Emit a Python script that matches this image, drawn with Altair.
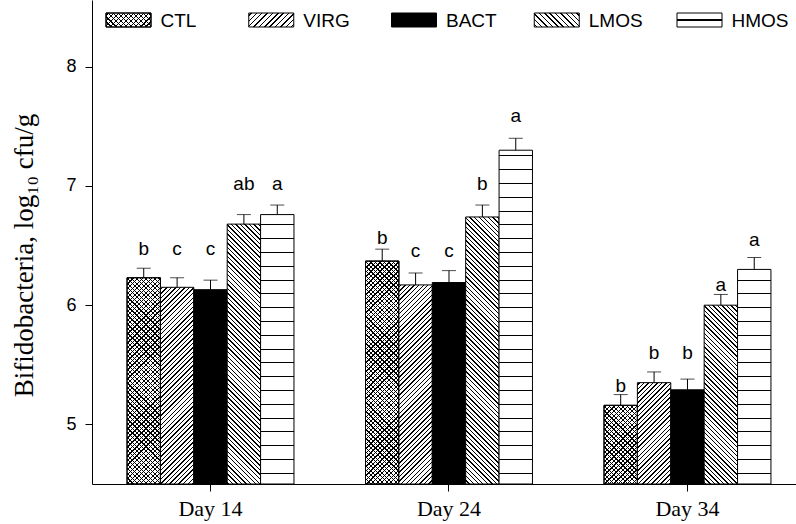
import altair as alt
import pandas as pd

# ---------------- data ----------------
days = ["Day 14", "Day 24", "Day 34"]
groups = ["CTL", "VIRG", "BACT", "LMOS", "HMOS"]
mean_d14 = [6.23, 6.15, 6.13, 6.68, 6.76]
mean_d24 = [6.37, 6.17, 6.19, 6.74, 7.30]
mean_d34 = [5.16, 5.35, 5.29, 6.00, 6.30]
se_d14 = [0.08, 0.08, 0.08, 0.08, 0.08]
se_d24 = [0.10, 0.10, 0.10, 0.10, 0.10]
se_d34 = [0.09, 0.09, 0.09, 0.09, 0.10]
letters_d14 = ["b", "c", "c", "ab", "a"]
letters_d24 = ["b", "c", "c", "b", "a"]
letters_d34 = ["b", "b", "b", "a", "a"]
letter_y_d14 = [6.42, 6.42, 6.42, 6.97, 6.97]
letter_y_d24 = [6.51, 6.40, 6.40, 6.97, 7.54]
letter_y_d34 = [5.27, 5.55, 5.55, 6.12, 6.50]
y_ticks = [5, 6, 7, 8]

means = [mean_d14, mean_d24, mean_d34]
ses = [se_d14, se_d24, se_d34]
letters = [letters_d14, letters_d24, letters_d34]
letter_ys = [letter_y_d14, letter_y_d24, letter_y_d34]

rows = []
for di, d in enumerate(days):
    for gi, g in enumerate(groups):
        rows.append({"day": d, "group": g, "mean": means[di][gi],
                     "top": round(means[di][gi] + ses[di][gi], 3),
                     "letter": letters[di][gi], "ly": letter_ys[di][gi]})
df = pd.DataFrame(rows)
legend_df = pd.DataFrame({"group": groups, "idx": list(range(len(groups)))})

# ---------------- layout / style ----------------
W, H = 704, 484
Y_MIN, Y_MAX = 4.5, 8.56
PAD_IN, PAD_OUT, ALIGN = 0.3, 0.126, 0.583
step = W / (len(days) - PAD_IN + 2 * PAD_OUT)
BAR_W = step * (1 - PAD_IN) / len(groups)
PX_PER = H / (Y_MAX - Y_MIN)
SQ2 = 2 ** 0.5

LEG_STEP = 142.75
LEG_L0 = -14 / LEG_STEP
LEG_SW_W, LEG_SW_H = 45, 14


def line_stops(L, period, lw, bg, fg, phase=None):
    if phase is None:
        phase = period / 2
    stops = [{"offset": 0, "color": bg}]
    s = phase
    while s - lw / 2 < L:
        a = round(max(0.0, (s - lw / 2) / L), 5)
        b = round(min(1.0, (s + lw / 2) / L), 5)
        stops += [{"offset": a, "color": bg}, {"offset": a, "color": fg},
                  {"offset": b, "color": fg}, {"offset": b, "color": bg}]
        s += period
    stops.append({"offset": 1, "color": bg})
    return stops


def diag(w, h, spacing, lw, direction, bg="white", fg="black"):
    L = w + h
    c = L / (w * w + h * h)
    stops = line_stops(L, spacing * SQ2, lw * SQ2, bg, fg)
    if direction == "/":
        x1, y1, x2, y2 = 0, 0, c * w, c * h
    else:
        x1, y1, x2, y2 = 1, 0, 1 - c * w, c * h
    return {"gradient": "linear", "x1": round(x1, 5), "y1": round(y1, 5),
            "x2": round(x2, 5), "y2": round(y2, 5), "stops": stops}


def horiz(h, period, lw, phase):
    stops = line_stops(h, period, lw, "white", "black", phase)
    return {"gradient": "linear", "x1": 0, "y1": 1, "x2": 0, "y2": 0, "stops": stops}


def fills_for(group, w, h, legend=False):
    sp = 3.8 if legend else 3.2
    if group == "CTL":
        s = 3.6 if legend else 3.2
        return [diag(w, h, s, 0.9, "/"), diag(w, h, s, 0.9, "\\", bg="transparent")]
    if group == "VIRG":
        return [diag(w, h, sp, 1.0, "/")]
    if group == "BACT":
        return ["black"]
    if group == "LMOS":
        return [diag(w, h, sp, 1.0, "\\")]
    if legend:
        return [horiz(h, 20, 1.4, 7)]
    return [horiz(h, 13.8, 1.0, 10.7)]


xscale = alt.Scale(domain=days, paddingInner=PAD_IN, paddingOuter=PAD_OUT, align=ALIGN)
offscale = alt.Scale(domain=groups, paddingInner=0, paddingOuter=0)
yscale = alt.Scale(domain=[Y_MIN, Y_MAX], zero=False, nice=False)

xaxis = alt.Axis(title=None, labelAngle=0, labelFont="Liberation Serif", labelFontSize=22,
                 labelColor="black", tickColor="black", domainColor="black", tickSize=7,
                 labelPadding=7, tickWidth=1, domainWidth=1, grid=False)
yaxis = alt.Axis(values=y_ticks, title="Bifidobacteria, log\u2081\u2080 cfu/g",
                 titleFont="Liberation Serif", titleFontSize=27, titleFontWeight="normal",
                 titleColor="black", titleAngle=270, titleX=-54, titleY=255,
                 labelFont="Liberation Sans", labelFontSize=18, labelColor="black",
                 tickColor="black", domainColor="black", tickSize=7, labelPadding=9,
                 tickWidth=1, domainWidth=1, grid=False)


def X():
    return alt.X("day:N", scale=xscale, axis=xaxis)


def XO():
    return alt.XOffset("group:N", scale=offscale)


def Y(field):
    return alt.Y(field, type="quantitative", scale=yscale, axis=yaxis)


base = alt.Chart(df)
data_layers = []
for di, d in enumerate(days):
    for gi, g in enumerate(groups):
        h = (means[di][gi] - Y_MIN) * PX_PER
        for f in fills_for(g, BAR_W, h):
            data_layers.append(
                base.transform_filter((alt.datum.day == d) & (alt.datum.group == g))
                .mark_bar(fill=f, stroke="black", strokeWidth=1)
                .encode(x=X(), xOffset=XO(), y=Y("mean"), y2=alt.datum(Y_MIN))
            )

err_rule = base.mark_rule(color="black", strokeWidth=1).encode(
    x=X(), xOffset=XO(), y=Y("mean"), y2="top:Q")
err_cap = base.mark_tick(color="black", orient="horizontal", size=14, thickness=1).encode(
    x=X(), xOffset=XO(), y=Y("top"))
sig = base.mark_text(font="Liberation Sans", fontSize=19, color="black",
                     baseline="alphabetic", align="center").encode(
    x=X(), xOffset=XO(), y=Y("ly"), text="letter:N")

data_part = alt.layer(*data_layers, err_rule, err_cap, sig)

lscale = alt.Scale(domain=[LEG_L0, LEG_L0 + W / LEG_STEP], nice=False, zero=False)
lbase = alt.Chart(legend_df).transform_calculate(
    x1=alt.datum.idx + LEG_SW_W / LEG_STEP,
    xt=alt.datum.idx + 54.5 / LEG_STEP)
leg_layers = []
for g in groups:
    for f in fills_for(g, LEG_SW_W, LEG_SW_H, legend=True):
        leg_layers.append(
            lbase.transform_filter(alt.datum.group == g)
            .mark_rect(fill=f, stroke="black", strokeWidth=1)
            .encode(x=alt.X("idx:Q", scale=lscale, axis=None), x2="x1:Q",
                    y=alt.value(13), y2=alt.value(13 + LEG_SW_H))
        )
leg_text = lbase.mark_text(font="Liberation Sans", fontSize=19, color="black",
                           align="left", baseline="alphabetic").encode(
    x=alt.X("xt:Q", scale=lscale, axis=None), y=alt.value(27), text="group:N")
legend_part = alt.layer(*leg_layers, leg_text)

chart = (
    alt.layer(data_part, legend_part)
    .resolve_scale(x="independent")
    .properties(width=W, height=H, autosize=alt.AutoSizeParams(type="none"),
                padding={"left": 92, "top": 0, "right": 0, "bottom": 40},
                background="white")
    .configure_view(stroke=None)
)

chart.save("out.html", embed_options={"renderer": "svg", "actions": False})
